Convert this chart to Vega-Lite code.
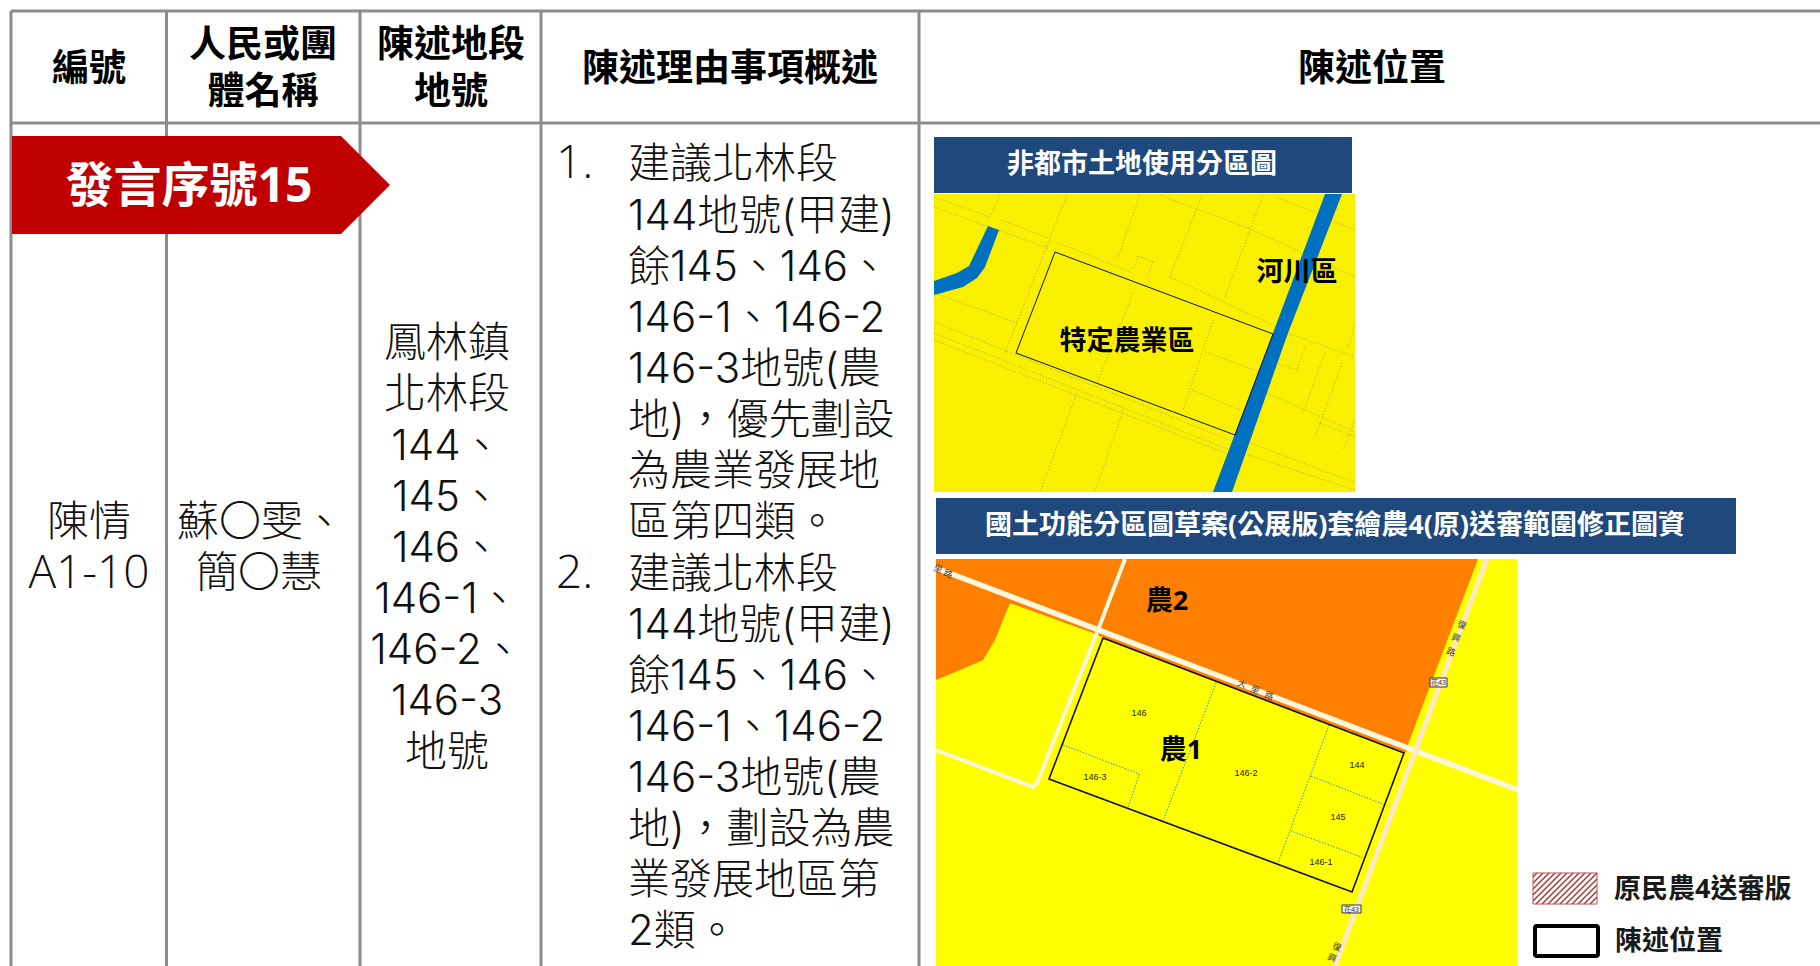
{
"$schema":"https://vega.github.io/schema/vega-lite/v6.json",
"width":1820,"height":966,"padding":0,
"autosize":{"type":"none"},
"background":"white",
"config":{"view":{"stroke":null},"text":{"font":"Open Sans, Noto Sans CJK TC","dy":2}},
"encoding":{
"x":{"field":"x","type":"quantitative","axis":null,"scale":{"domain":[0,1820],"nice":false,"zero":false}},
"y":{"field":"y","type":"quantitative","axis":null,"scale":{"domain":[966,0],"nice":false,"zero":false}}
},
"layer":[
{"data":{"values":[
{"x":11,"y":11,"x2":11,"y2":966},{"x":166.5,"y":11,"x2":166.5,"y2":966},{"x":360,"y":11,"x2":360,"y2":966},{"x":541,"y":11,"x2":541,"y2":966},{"x":919,"y":11,"x2":919,"y2":966},
{"x":11,"y":11,"x2":1820,"y2":11},{"x":11,"y":123,"x2":1820,"y2":123}]},
"mark":{"type":"rule","stroke":"#8c8c8c","strokeWidth":3},
"encoding":{"x2":{"field":"x2"},"y2":{"field":"y2"}}},
{"data":{"values":[{"id":"b","i":1,"x":12,"y":136},{"id":"b","i":2,"x":341,"y":136},{"id":"b","i":3,"x":390,"y":185},{"id":"b","i":4,"x":341,"y":234},{"id":"b","i":5,"x":12,"y":234},{"id":"b","i":6,"x":12,"y":136}]},
"mark":{"type":"line","fill":"#C00000","stroke":"#C00000","strokeWidth":0},
"encoding":{"order":{"field":"i"},"detail":{"field":"id"}}},
{"data":{"values":[{"x":934,"y":137,"x2":1352,"y2":193},{"x":936,"y":498,"x2":1736,"y2":554}]},
"mark":{"type":"rect","fill":"#1F497D"},"encoding":{"x2":{"field":"x2"},"y2":{"field":"y2"}}},
{"data":{"values":[{"x":934,"y":194,"x2":1355,"y2":492}]},
"mark":{"type":"rect","fill":"#F9F000"},"encoding":{"x2":{"field":"x2"},"y2":{"field":"y2"}}},
{"data":{"values":[
{"x":934,"y":197,"x2":990,"y2":217},{"x":934,"y":207,"x2":1048,"y2":248},{"x":1002,"y":220,"x2":1048,"y2":238},{"x":1058,"y":243,"x2":1133,"y2":273},{"x":1160,"y":195,"x2":1248,"y2":228},{"x":1248,"y":228,"x2":1355,"y2":277},{"x":1170,"y":277,"x2":1273,"y2":325},{"x":934,"y":293,"x2":1017,"y2":323},{"x":934,"y":322,"x2":1230,"y2":440},{"x":934,"y":333,"x2":1230,"y2":450},{"x":934,"y":340,"x2":1230,"y2":455},{"x":1248,"y":442,"x2":1355,"y2":483},{"x":1248,"y":455,"x2":1355,"y2":490},{"x":1000,"y":195,"x2":990,"y2":217},{"x":1067,"y":195,"x2":1005,"y2":353},{"x":1140,"y":195,"x2":1117,"y2":260},{"x":1202,"y":195,"x2":1170,"y2":277},{"x":1263,"y":195,"x2":1225,"y2":297},{"x":1133,"y":293,"x2":1097,"y2":383},{"x":1213,"y":320,"x2":1183,"y2":410},{"x":1077,"y":393,"x2":1040,"y2":492},{"x":1123,"y":410,"x2":1095,"y2":492},{"x":1205,"y":352,"x2":1260,"y2":372},{"x":1192,"y":390,"x2":1240,"y2":410},{"x":1138,"y":256,"x2":1153,"y2":262},{"x":1153,"y":262,"x2":1148,"y2":277},{"x":1138,"y":256,"x2":1133,"y2":270},{"x":1287,"y":333,"x2":1355,"y2":357},{"x":1305,"y":347,"x2":1297,"y2":370},{"x":1297,"y":370,"x2":1277,"y2":363},{"x":1325,"y":353,"x2":1303,"y2":413},{"x":1342,"y":363,"x2":1315,"y2":437},{"x":1267,"y":393,"x2":1355,"y2":432},{"x":1320,"y":423,"x2":1355,"y2":437},{"x":1355,"y":420,"x2":1343,"y2":450},{"x":1278,"y":198,"x2":1317,"y2":213},{"x":1323,"y":217,"x2":1355,"y2":230},{"x":1355,"y":327,"x2":1347,"y2":350}]},
"mark":{"type":"rule","stroke":"#8f8f55","strokeWidth":1,"strokeDash":[1,2],"opacity":0.75},
"encoding":{"x2":{"field":"x2"},"y2":{"field":"y2"}}},
{"data":{"values":[
{"id":"r1","i":1,"x":1325,"y":194},{"id":"r1","i":2,"x":1342,"y":194},{"id":"r1","i":3,"x":1288,"y":333},{"id":"r1","i":4,"x":1232,"y":492},{"id":"r1","i":5,"x":1213,"y":492},{"id":"r1","i":6,"x":1273,"y":333},{"id":"r1","i":7,"x":1325,"y":194},
{"id":"r2","i":1,"x":934,"y":281},{"id":"r2","i":2,"x":957,"y":273},{"id":"r2","i":3,"x":969,"y":266},{"id":"r2","i":4,"x":988,"y":226},{"id":"r2","i":5,"x":999,"y":230},{"id":"r2","i":6,"x":985,"y":267},{"id":"r2","i":7,"x":977,"y":278},{"id":"r2","i":8,"x":963,"y":287},{"id":"r2","i":9,"x":934,"y":295},{"id":"r2","i":10,"x":934,"y":281}]},
"mark":{"type":"line","fill":"#0070C0","strokeWidth":0,"stroke":"#0070C0"},
"encoding":{"order":{"field":"i"},"detail":{"field":"id"}}},
{"data":{"values":[{"id":"p","i":1,"x":1055,"y":252},{"id":"p","i":2,"x":1273,"y":334},{"id":"p","i":3,"x":1235,"y":435},{"id":"p","i":4,"x":1016,"y":353},{"id":"p","i":5,"x":1055,"y":252}]},
"mark":{"type":"line","stroke":"#111111","strokeWidth":1},
"encoding":{"order":{"field":"i"},"detail":{"field":"id"}}},
{"data":{"values":[{"x":936,"y":559,"x2":1517,"y2":966}]},
"mark":{"type":"rect","fill":"#FFFF00"},"encoding":{"x2":{"field":"x2"},"y2":{"field":"y2"}}},
{"data":{"values":[
{"id":"o","i":1,"x":936,"y":559},{"id":"o","i":2,"x":1478,"y":559},{"id":"o","i":3,"x":1407,"y":747},{"id":"o","i":4,"x":1406,"y":753},{"id":"o","i":5,"x":1103,"y":638},{"id":"o","i":6,"x":1096,"y":634},{"id":"o","i":7,"x":1010,"y":603},{"id":"o","i":8,"x":995,"y":640},{"id":"o","i":9,"x":983,"y":660},{"id":"o","i":10,"x":965,"y":668},{"id":"o","i":11,"x":936,"y":680},{"id":"o","i":12,"x":936,"y":559}]},
"mark":{"type":"line","fill":"#FF7F00","stroke":"#FF7F00","strokeWidth":0},
"encoding":{"order":{"field":"i"},"detail":{"field":"id"}}},
{"data":{"values":[
{"id":"a","i":1,"x":1125,"y":559},{"id":"a","i":2,"x":1098,"y":630},{"id":"a","i":3,"x":1037,"y":783},{"id":"a","i":4,"x":1033,"y":787},{"id":"a","i":5,"x":936,"y":750}]},
"mark":{"type":"line","stroke":"#FFF6DC","strokeWidth":4},
"encoding":{"order":{"field":"i"},"detail":{"field":"id"}}},
{"data":{"values":[{"id":"c","i":1,"x":936,"y":568},{"id":"c","i":2,"x":1518,"y":790}]},
"mark":{"type":"line","stroke":"#FFF6DC","strokeWidth":5.5},
"encoding":{"order":{"field":"i"},"detail":{"field":"id"}}},
{"data":{"values":[{"id":"d","i":1,"x":1487,"y":559},{"id":"d","i":2,"x":1335,"y":966}]},
"mark":{"type":"line","stroke":"#FDE9C9","strokeWidth":5},
"encoding":{"order":{"field":"i"},"detail":{"field":"id"}}},
{"data":{"values":[
{"x":1216,"y":683,"x2":1163,"y2":821},{"x":1329,"y":725,"x2":1278,"y2":863},{"x":1311,"y":776,"x2":1385,"y2":805},{"x":1291,"y":831,"x2":1364,"y2":858},{"x":1063,"y":745,"x2":1139.5,"y2":774},{"x":1139.5,"y":774,"x2":1128,"y2":807}]},
"mark":{"type":"rule","stroke":"#2F8FC8","strokeWidth":1,"strokeDash":[1.5,1.5]},
"encoding":{"x2":{"field":"x2"},"y2":{"field":"y2"}}},
{"data":{"values":[{"id":"q","i":1,"x":1103,"y":638},{"id":"q","i":2,"x":1404,"y":753},{"id":"q","i":3,"x":1352,"y":892},{"id":"q","i":4,"x":1049,"y":779},{"id":"q","i":5,"x":1103,"y":638}]},
"mark":{"type":"line","stroke":"#111111","strokeWidth":1.6},
"encoding":{"order":{"field":"i"},"detail":{"field":"id"}}},
{"data":{"values":[{"x":1430,"y":678,"x2":1447,"y2":687},{"x":1342,"y":905,"x2":1361,"y2":913}]},
"mark":{"type":"rect","fill":"#F4F4F4","stroke":"#333333","strokeWidth":1},"encoding":{"x2":{"field":"x2"},"y2":{"field":"y2"}}},
{"data":{"values":[{"x":1438.5,"y":681,"t":"花43"},{"x":1351.5,"y":907.5,"t":"花43"}]},
"mark":{"type":"text","fontSize":7,"fill":"#222222"},"encoding":{"text":{"field":"t"}}},
{"data":{"values":[
{"x":1462,"y":625,"t":"復"},{"x":1456,"y":638,"t":"興"},{"x":1451,"y":652,"t":"路"},{"x":1337,"y":947,"t":"復"},{"x":1332,"y":958,"t":"興"},{"x":938,"y":569,"t":"里"},{"x":948,"y":574,"t":"路"},{"x":1242,"y":684,"t":"大"},{"x":1255,"y":690,"t":"里"},{"x":1269,"y":696,"t":"路"}]},
"mark":{"type":"text","fontSize":9,"angle":20,"dy":0,"fill":"#444444"},"encoding":{"text":{"field":"t"}}},
{"data":{"values":[
{"x":1139,"y":713,"t":"146"},{"x":1095,"y":777,"t":"146-3"},{"x":1246,"y":773,"t":"146-2"},{"x":1357,"y":765,"t":"144"},{"x":1338,"y":817,"t":"145"},{"x":1321,"y":862,"t":"146-1"}]},
"mark":{"type":"text","font":"Liberation Sans","fontSize":9,"dy":0,"fill":"#222222"},"encoding":{"text":{"field":"t"}}},
{"data":{"values":[{"x":1167,"y":600,"t":"農2"},{"x":1181,"y":749,"t":"農1"},{"x":1127,"y":340,"t":"特定農業區"},{"x":1297,"y":271,"t":"河川區"}]},
"mark":{"type":"text","fontSize":27,"fontWeight":"bold","fill":"#000000"},"encoding":{"text":{"field":"t"}}},
{"data":{"values":[{"x":1142,"y":163,"t":"非都市土地使用分區圖"},{"x":1335,"y":524,"t":"國土功能分區圖草案(公展版)套繪農4(原)送審範圍修正圖資"}]},
"mark":{"type":"text","fontSize":27,"fontWeight":"bold","fill":"#FFFFFF"},"encoding":{"text":{"field":"t"}}},
{"data":{"values":[{"x":1533,"y":873,"x2":1597,"y2":904}]},
"mark":{"type":"rect","fill":"#FFFFFF"},"encoding":{"x2":{"field":"x2"},"y2":{"field":"y2"}}},
{"data":{"values":[
{"x":1533,"y":877,"x2":1537,"y2":873},{"x":1533,"y":883,"x2":1543,"y2":873},{"x":1533,"y":889,"x2":1549,"y2":873},{"x":1533,"y":895,"x2":1555,"y2":873},{"x":1533,"y":901,"x2":1561,"y2":873},{"x":1536,"y":904,"x2":1567,"y2":873},{"x":1542,"y":904,"x2":1573,"y2":873},{"x":1548,"y":904,"x2":1579,"y2":873},{"x":1554,"y":904,"x2":1585,"y2":873},{"x":1560,"y":904,"x2":1591,"y2":873},{"x":1566,"y":904,"x2":1597,"y2":873},{"x":1572,"y":904,"x2":1597,"y2":879},{"x":1578,"y":904,"x2":1597,"y2":885},{"x":1584,"y":904,"x2":1597,"y2":891},{"x":1590,"y":904,"x2":1597,"y2":897}]},
"mark":{"type":"rule","stroke":"#A83232","strokeWidth":1.5},
"encoding":{"x2":{"field":"x2"},"y2":{"field":"y2"}}},
{"data":{"values":[{"x":1533,"y":873,"x2":1597,"y2":904}]},
"mark":{"type":"rect","fillOpacity":0,"stroke":"#C0504D","strokeWidth":1},"encoding":{"x2":{"field":"x2"},"y2":{"field":"y2"}}},
{"data":{"values":[{"x":1535,"y":926,"x2":1598,"y2":956}]},
"mark":{"type":"rect","fillOpacity":0,"stroke":"#000000","strokeWidth":4,"cornerRadius":2},"encoding":{"x2":{"field":"x2"},"y2":{"field":"y2"}}},
{"data":{"values":[{"x":1614,"y":888,"t":"原民農4送審版"},{"x":1615,"y":940,"t":"陳述位置"}]},
"mark":{"type":"text","fontSize":27,"fontWeight":"bold","align":"left","fill":"#1a1a1a"},"encoding":{"text":{"field":"t"}}},
{"data":{"values":[{"x":89,"y":68,"t":"編號"},{"x":263,"y":44,"t":"人民或團"},{"x":263,"y":91,"t":"體名稱"},{"x":451,"y":44,"t":"陳述地段"},{"x":451,"y":91,"t":"地號"},{"x":730,"y":68,"t":"陳述理由事項概述"},{"x":1372,"y":68,"t":"陳述位置"}]},
"mark":{"type":"text","fontSize":37,"fontWeight":"bold","fill":"#000000"},"encoding":{"text":{"field":"t"}}},
{"data":{"values":[{"x":189,"y":186,"t":"發言序號15"}]},
"mark":{"type":"text","fontSize":48,"fontWeight":"bold","fill":"#FFFFFF"},"encoding":{"text":{"field":"t"}}},
{"data":{"values":[{"x":89,"y":572,"t":"A1-10"}]},
"mark":{"type":"text","font":"Open Sans","fontWeight":300,"fontSize":46,"fill":"#111111"},"encoding":{"text":{"field":"t"}}},
{"data":{"values":[{"x":556,"y":162,"t":"1."},{"x":556,"y":572,"t":"2."}]},
"mark":{"type":"text","font":"Open Sans","fontWeight":300,"fontSize":46,"align":"left","fill":"#111111"},"encoding":{"text":{"field":"t"}}},
{"data":{"values":[
{"x":89,"y":521,"t":"陳情"},{"x":261,"y":521,"t":"蘇〇雯、"},{"x":259,"y":572,"t":"簡〇慧"},
{"x":447,"y":342,"t":"鳳林鎮"},{"x":447,"y":393,"t":"北林段"},{"x":447,"y":445,"t":"144、"},{"x":447,"y":496,"t":"145、"},{"x":447,"y":547,"t":"146、"},{"x":447,"y":598,"t":"146-1、"},{"x":447,"y":649,"t":"146-2、"},{"x":447,"y":700,"t":"146-3"},{"x":447,"y":751,"t":"地號"}]},
"mark":{"type":"text","font":"Inter, Noto Sans CJK TC","fontWeight":300,"fontSize":42,"fill":"#111111"},"encoding":{"text":{"field":"t"}}},
{"data":{"values":[
{"x":628,"y":163,"t":"建議北林段"},{"x":628,"y":215,"t":"144地號(甲建)"},{"x":628,"y":266,"t":"餘145、146、"},{"x":628,"y":317,"t":"146-1、146-2"},{"x":628,"y":368,"t":"146-3地號(農"},{"x":628,"y":419,"t":"地)，優先劃設"},{"x":628,"y":470,"t":"為農業發展地"},{"x":628,"y":521,"t":"區第四類。"},
{"x":628,"y":573,"t":"建議北林段"},{"x":628,"y":624,"t":"144地號(甲建)"},{"x":628,"y":675,"t":"餘145、146、"},{"x":628,"y":726,"t":"146-1、146-2"},{"x":628,"y":777,"t":"146-3地號(農"},{"x":628,"y":828,"t":"地)，劃設為農"},{"x":628,"y":879,"t":"業發展地區第"},{"x":628,"y":930,"t":"2類。"}]},
"mark":{"type":"text","font":"Inter, Noto Sans CJK TC","fontWeight":300,"fontSize":42,"align":"left","fill":"#111111"},"encoding":{"text":{"field":"t"}}}
]
}
